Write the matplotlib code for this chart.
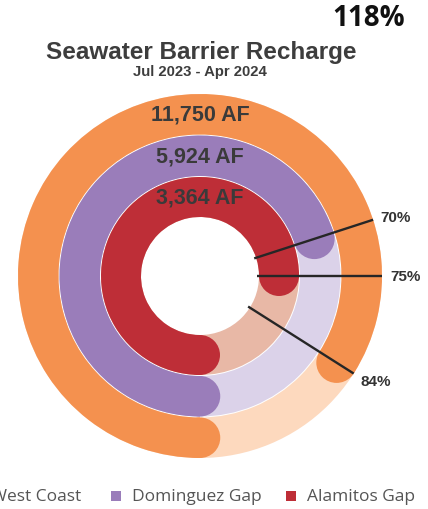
import matplotlib
matplotlib.use("Agg")
import matplotlib.pyplot as plt
from matplotlib.patches import Wedge, Circle, Rectangle
import numpy as np

# ---- data ----
regions = ["West Coast", "Dominguez Gap", "Alamitos Gap"]
recharge_af = [11750, 5924, 3364]
pct_of_target = [84, 70, 75]
overall_pct = 118
title = "Seawater Barrier Recharge"
subtitle = "Jul 2023 - Apr 2024"

# ---- style ----
main_colors = ["#F4914F", "#9A7DBA", "#BE2E37"]
track_colors = ["#FDD9BE", "#DBD2E9", "#E8B8A6"]
# ring bands (outer, inner) in pixels, outer ring first
bands = [(182, 141.5), (140.5, 100), (99, 59)]

W, H = 428, 510
fig = plt.figure(figsize=(W / 100, H / 100), dpi=100)
ax = fig.add_axes([0, 0, 1, 1])
ax.set_xlim(0, W)
ax.set_ylim(0, H)
ax.axis("off")

cx, cy = 200, H - 277

def polar(r, ang):
    a = np.deg2rad(ang)
    return cx + r * np.cos(a), cy + r * np.sin(a)

for (ro, ri), col, tcol, pct, val in zip(bands, main_colors, track_colors,
                                         pct_of_target, recharge_af):
    width = ro - ri
    rm = (ro + ri) / 2
    ax.add_patch(Wedge((cx, cy), ro, 0, 360, width=width, facecolor=tcol,
                       edgecolor="none", zorder=1))
    sweep = pct / 100 * 360
    start = -90
    end = -90 - sweep
    ax.add_patch(Wedge((cx, cy), ro, end, start, width=width, facecolor=col,
                       edgecolor="none", zorder=2))
    for ang in (start, end):
        ax.add_patch(Circle(polar(rm, ang), width / 2, facecolor=col,
                            edgecolor="none", zorder=2))
    ax.text(cx, cy + rm, f"{val:,} AF", ha="center", va="center",
            fontsize=15.5, fontweight="bold", family="Liberation Sans",
            color="#3a3a3a", zorder=5)

# marker lines
for pct in pct_of_target:
    ang = -90 - pct / 100 * 360
    x0, y0 = polar(57, ang)
    x1, y1 = polar(182, ang)
    ax.plot([x0, x1], [y0, y1], color="#262626", lw=1.7, zorder=4,
            solid_capstyle="butt")
    lx, ly = polar(190, ang)
    ax.text(lx, ly - (3 if pct > 80 else 0), f"{pct}%", ha="left", va="center",
            fontsize=11, fontweight="bold", family="Liberation Sans",
            color="#333333", zorder=5)

# titles
ax.text(201, H - 52, title, ha="center", va="center", fontsize=17.5,
        fontweight="bold", family="Liberation Sans", color="#3d3d3d")
ax.text(200, H - 72, subtitle, ha="center", va="center", fontsize=10.7,
        fontweight="bold", family="Liberation Sans", color="#3d3d3d")
ax.text(405, H - 19, f"{overall_pct}%", ha="right", va="center", fontsize=20,
        fontweight="bold", family="Open Sans", color="#111111")

# legend
leg_sq_x = [-25, 116, 291]
for x, name, col in zip(leg_sq_x, regions, main_colors):
    ax.add_patch(Rectangle((x - 5, H - 497 - 5), 10, 10, facecolor=col,
                           edgecolor="none"))
    ax.text(x + 16, H - 497, name, ha="left", va="center", fontsize=12.5,
            family="Open Sans", color="#555555")

fig.savefig("out.png", dpi=100)
